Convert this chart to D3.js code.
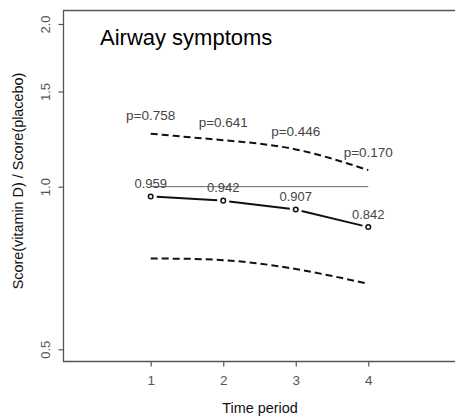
<!DOCTYPE html>
<html><head><meta charset="utf-8">
<script src="https://cdn.jsdelivr.net/npm/d3@7"></script>
<style>body{margin:0;background:#fff}svg{display:block}text{font-family:Arial,"Liberation Sans",sans-serif}</style>
</head><body>
<svg id="c" width="455" height="418"></svg>
<script>
const periods = [1, 2, 3, 4];
const estimate = [0.959, 0.942, 0.907, 0.842];
const upperCI = [1.253, 1.219, 1.172, 1.073];
const lowerCI = [0.736, 0.731, 0.704, 0.661];
const pValues = ["p=0.758", "p=0.641", "p=0.446", "p=0.170"];
const yTicks = [0.5, 1.0, 1.5, 2.0];
const title = "Airway symptoms";

const svg = d3.select("#c");
const x = d3.scaleLinear().domain([1, 4]).range([150.7, 368.3]);
const y = d3.scaleLog().domain([0.5, 2]).range([349.3, 24]);

// box (left, top, bottom; right side beyond the view)
svg.append("path").attr("d", "M470,10.5H63.5V361.5H470")
  .attr("fill", "none").attr("stroke", "#555").attr("stroke-width", 1.3);

// y axis
const yAxis = d3.axisLeft(y).tickValues(yTicks).tickSize(5).tickFormat(d3.format(".1f"));
const gy = svg.append("g").attr("transform", "translate(63.5,0)").call(yAxis);
gy.select(".domain").remove();
gy.selectAll(".tick line").attr("stroke", "#555").attr("stroke-width", 1.2);
gy.selectAll(".tick text").attr("fill", "#555").attr("font-size", 13)
  .attr("x", null).attr("dy", null).attr("text-anchor", "middle")
  .attr("transform", "translate(-14,0) rotate(-90)");

// x axis
const xAxis = d3.axisBottom(x).tickValues(periods).tickSize(5).tickFormat(d3.format("d"));
const gx = svg.append("g").attr("transform", "translate(0,361.5)").call(xAxis);
gx.select(".domain").remove();
gx.selectAll(".tick line").attr("stroke", "#555").attr("stroke-width", 1.2);
gx.selectAll(".tick text").attr("fill", "#555").attr("font-size", 13.5).attr("y", 14).attr("dy", "0.71em");

// axis titles
svg.append("text").attr("x", 260).attr("y", 413).attr("text-anchor", "middle")
  .attr("font-size", 14.4).attr("fill", "#111").text("Time period");
svg.append("text").attr("transform", "translate(23,181) rotate(-90)").attr("text-anchor", "middle")
  .attr("font-size", 14.4).attr("fill", "#111").text("Score(vitamin D) / Score(placebo)");

// title
svg.append("text").attr("x", 100).attr("y", 45).attr("font-size", 22).attr("fill", "#000").text(title);

// reference line at 1
svg.append("line").attr("x1", x(1)).attr("x2", x(4)).attr("y1", y(1)).attr("y2", y(1))
  .attr("stroke", "#666").attr("stroke-width", 1);

// CI curves
const ciLine = d3.line().x((d, i) => x(periods[i])).y(d => y(d)).curve(d3.curveNatural);
[upperCI, lowerCI].forEach(arr => {
  svg.append("path").attr("d", ciLine(arr)).attr("fill", "none")
    .attr("stroke", "#111").attr("stroke-width", 2).attr("stroke-dasharray", "7,4");
});

// estimate line with gaps (type "b")
const pts = periods.map((p, i) => [x(p), y(estimate[i])]);
for (let i = 0; i < pts.length - 1; i++) {
  const [x0, y0] = pts[i], [x1, y1] = pts[i + 1];
  const dx = x1 - x0, dy = y1 - y0, L = Math.hypot(dx, dy), g = 6;
  svg.append("line")
    .attr("x1", x0 + dx / L * g).attr("y1", y0 + dy / L * g)
    .attr("x2", x1 - dx / L * g).attr("y2", y1 - dy / L * g)
    .attr("stroke", "#111").attr("stroke-width", 2);
}
svg.selectAll("circle.pt").data(estimate).enter().append("circle")
  .attr("cx", (d, i) => x(periods[i])).attr("cy", d => y(d)).attr("r", 2.3)
  .attr("fill", "#fff").attr("stroke", "#111").attr("stroke-width", 1.5);

// estimate labels
svg.selectAll("text.est").data(estimate).enter().append("text")
  .attr("x", (d, i) => x(periods[i])).attr("y", d => y(d) - 8.5)
  .attr("text-anchor", "middle").attr("font-size", 13).attr("fill", "#444")
  .text(d => d3.format(".3f")(d));

// p-value labels
svg.selectAll("text.pv").data(pValues).enter().append("text")
  .attr("x", (d, i) => x(periods[i])).attr("y", (d, i) => y(upperCI[i]) - 13.5)
  .attr("text-anchor", "middle").attr("font-size", 13.5).attr("fill", "#444")
  .text(d => d);
</script>
</body></html>
